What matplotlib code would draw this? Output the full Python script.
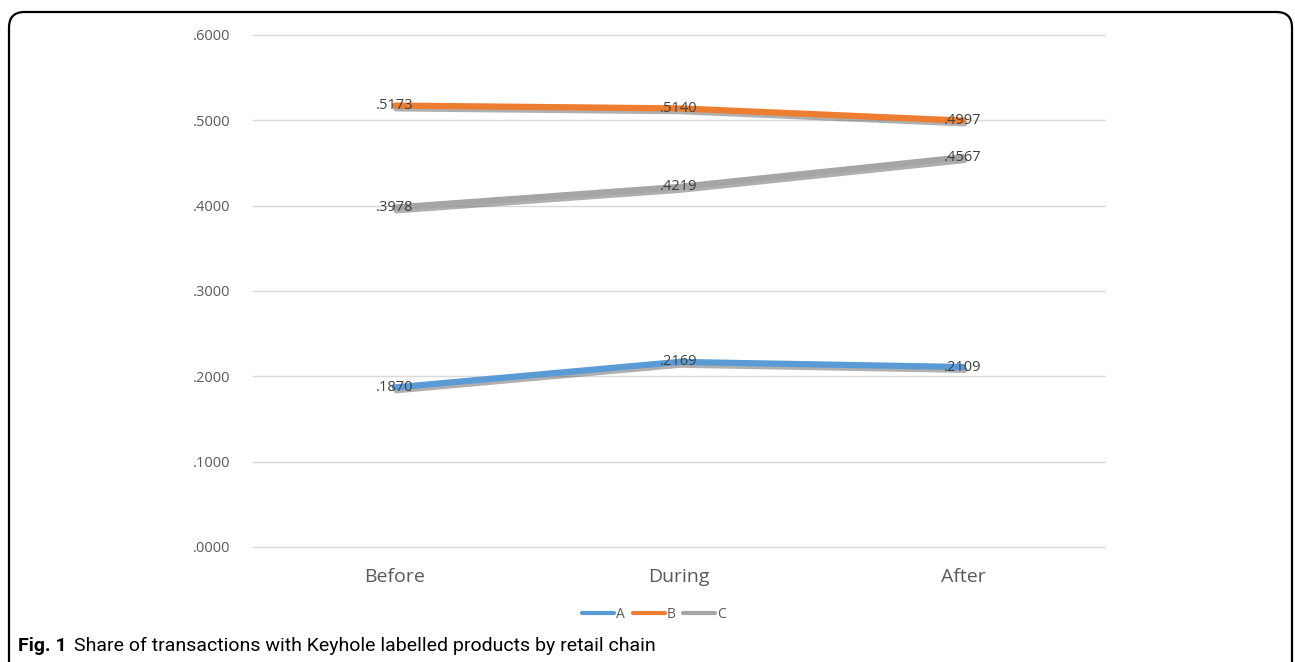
import numpy as np
import matplotlib.pyplot as plt
import matplotlib.patheffects as pe
from matplotlib.patches import FancyBboxPatch

periods = ["Before", "During", "After"]
chain_a = [0.1870, 0.2169, 0.2109]
chain_b = [0.5173, 0.5140, 0.4997]
chain_c = [0.3978, 0.4219, 0.4567]
y_ticks = [0.0, 0.1, 0.2, 0.3, 0.4, 0.5, 0.6]

series = [("A", chain_a, "#5B9BD5"), ("B", chain_b, "#ED7D31"), ("C", chain_c, "#A5A5A5")]

plt.rcParams["font.family"] = ["Open Sans", "DejaVu Sans"]

fig = plt.figure(figsize=(12.95, 6.62), dpi=100)

# rounded frame around the figure panel
frame = FancyBboxPatch((9 / 1295, -0.05), 1283 / 1295, 1 - 12 / 662 + 0.05,
                       boxstyle="round,pad=0,rounding_size=0.012",
                       transform=fig.transFigure, fill=False,
                       edgecolor="black", linewidth=1.6, mutation_aspect=1295 / 662)
fig.patches.append(frame)

ax = fig.add_axes([253 / 1295, 1 - 547 / 662, 852 / 1295, 512 / 662])
x = np.arange(len(periods))

shadow = [pe.SimpleLineShadow(offset=(1, -2), shadow_color="#606060", alpha=0.5), pe.Normal()]
for name, vals, col in series:
    ax.plot(x, vals, color=col, linewidth=4.5, label=name, path_effects=shadow,
            solid_capstyle="round", zorder=3)
    for xi, v in zip(x, vals):
        ax.text(xi, v, ("%.4f" % v)[1:], ha="center", va="center",
                fontsize=10.5, color="#404040", zorder=4)

ax.set_xlim(-0.5, 2.5)
ax.set_ylim(0, 0.6)
ax.set_yticks(y_ticks)
ax.set_yticklabels([("%.4f" % t)[1:] for t in y_ticks])
ax.set_xticks(x)
ax.set_xticklabels(periods)
ax.grid(axis="y", color="#D9D9D9", linewidth=1)
for gl in ax.get_ygridlines():
    gl.set_clip_on(False)
ax.set_axisbelow(True)
for s in ax.spines.values():
    s.set_visible(False)
ax.tick_params(axis="y", length=0, pad=16, labelsize=10.5, labelcolor="#595959")
ax.tick_params(axis="x", length=0, pad=15, labelsize=14, labelcolor="#595959")

leg = fig.legend(loc="center", bbox_to_anchor=(654 / 1295, 1 - 614 / 662), ncol=3,
                 frameon=False, fontsize=10, handlelength=2.3, handletextpad=0.1,
                 columnspacing=0.6)
for line in leg.get_lines():
    line.set_linewidth(3)
    line.set_path_effects([])
for t in leg.get_texts():
    t.set_color("#595959")

cap_font = ["Roboto", "DejaVu Sans"]
fig_lbl = fig.text(18 / 1295, 1 - 646 / 662, "Fig. 1", fontsize=14, fontweight="bold",
                   family=cap_font, va="center", ha="left")
ax.annotate("Share of transactions with Keyhole labelled products by retail chain",
            xy=(1, 0.5), xycoords=fig_lbl, xytext=(5, 0), textcoords="offset points",
            fontsize=14, family=cap_font, va="center", ha="left", annotation_clip=False)

fig.savefig("out.png", dpi=100)
